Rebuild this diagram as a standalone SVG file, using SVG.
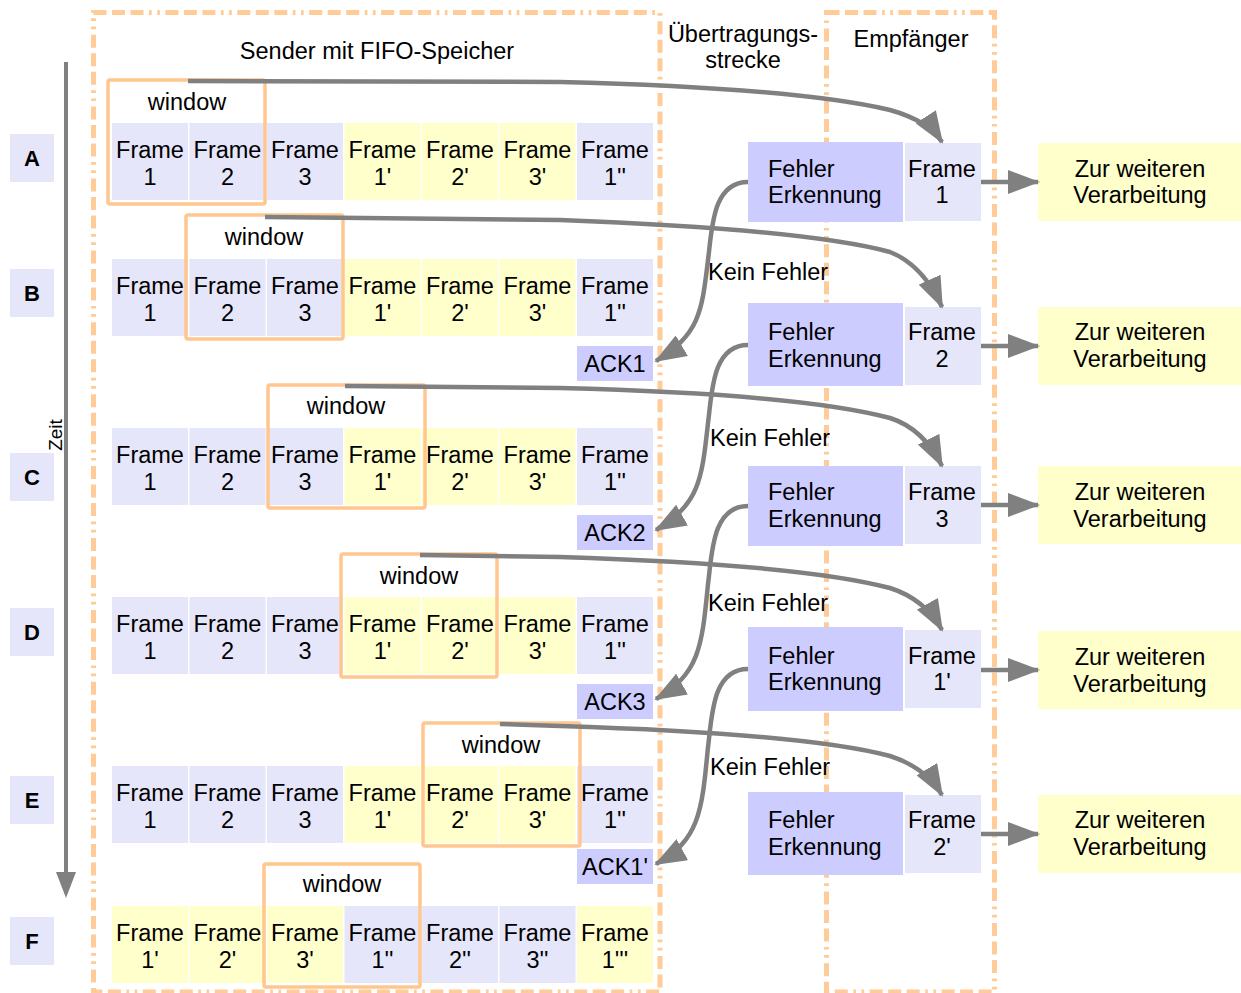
<svg xmlns="http://www.w3.org/2000/svg" width="1241" height="993" viewBox="0 0 1241 993">
<style>
  text { font-family: "Liberation Sans", Arial, sans-serif; font-size: 23.5px; fill: #000; }
  .c { text-anchor: middle; }
  .lbl { font-weight: bold; font-size: 22px; }
  .lav { fill: #E6E6FA; }
  .yel { fill: #FFFFCC; }
  .blu { fill: #CCCCFF; }
  .frame { fill: none; stroke: #FFCC99; stroke-width: 5; stroke-dasharray: 13 5.5 13 5.5 13 5.5 2.7 5.5 2.7 5.5; }
  .win { fill: none; stroke: #FFC690; stroke-width: 3.5; }
  .con { fill: none; stroke: #808080; stroke-width: 4.5; }
</style>
<defs>
  <marker id="ah" markerUnits="userSpaceOnUse" markerWidth="32" markerHeight="24" refX="30" refY="12" orient="auto">
    <path d="M0,0 L32,12 L0,24 z" fill="#808080"/>
  </marker>
</defs>
<rect width="1241" height="993" fill="#fff"/>

<!-- column frames -->
<g id="columns">
  <rect class="frame" x="93.5" y="12.5" width="566.5" height="979.5"/>
  <rect class="frame" x="826.5" y="12.5" width="168" height="979.5"/>
  <text class="c" x="377" y="59">Sender mit FIFO-Speicher</text>
  <text class="c" x="743" y="42">Übertragungs-</text>
  <text class="c" x="743" y="68">strecke</text>
  <text class="c" x="911" y="47">Empfänger</text>
</g>

<!-- time axis -->
<g id="time">
  <line x1="66" y1="62" x2="66" y2="875" stroke="#808080" stroke-width="4"/>
  <polygon points="56,872 76,872 66,898" fill="#808080"/>
  <text transform="translate(62,435) rotate(-90)" class="c" style="font-size:19px">Zeit</text>
</g>

<!-- row labels -->
<g id="rowlabels">
  <rect class="lav" x="10" y="134" width="44" height="48"/><text class="c lbl" x="32" y="166">A</text>
  <rect class="lav" x="10" y="269" width="44" height="48"/><text class="c lbl" x="32" y="301">B</text>
  <rect class="lav" x="10" y="453" width="44" height="48"/><text class="c lbl" x="32" y="485">C</text>
  <rect class="lav" x="10" y="608" width="44" height="48"/><text class="c lbl" x="32" y="640">D</text>
  <rect class="lav" x="10" y="776" width="44" height="48"/><text class="c lbl" x="32" y="808">E</text>
  <rect class="lav" x="10" y="917" width="44" height="48"/><text class="c lbl" x="32" y="949">F</text>
</g>

<!-- sender rows A-E share the same queue content -->
<g id="rowA">
  <g transform="translate(0,123)">
    <rect class="lav" x="112" width="76" height="77"/><rect class="lav" x="189.5" width="76" height="77"/><rect class="lav" x="267" width="76" height="77"/>
    <rect class="yel" x="344.5" width="76" height="77"/><rect class="yel" x="422" width="76" height="77"/><rect class="yel" x="499.5" width="76" height="77"/>
    <rect class="lav" x="577" width="76" height="77"/>
    <g class="c">
      <text x="150" y="35">Frame</text><text x="150" y="62">1</text>
      <text x="227.5" y="35">Frame</text><text x="227.5" y="62">2</text>
      <text x="305" y="35">Frame</text><text x="305" y="62">3</text>
      <text x="382.5" y="35">Frame</text><text x="382.5" y="62">1'</text>
      <text x="460" y="35">Frame</text><text x="460" y="62">2'</text>
      <text x="537.5" y="35">Frame</text><text x="537.5" y="62">3'</text>
      <text x="615" y="35">Frame</text><text x="615" y="62">1''</text>
    </g>
  </g>
  <rect class="win" x="108" y="80" width="157" height="124" rx="2"/>
  <text class="c" x="187" y="110">window</text>
</g>

<g id="rowB">
  <g transform="translate(0,259)">
    <rect class="lav" x="112" width="76" height="77"/><rect class="lav" x="189.5" width="76" height="77"/><rect class="lav" x="267" width="76" height="77"/>
    <rect class="yel" x="344.5" width="76" height="77"/><rect class="yel" x="422" width="76" height="77"/><rect class="yel" x="499.5" width="76" height="77"/>
    <rect class="lav" x="577" width="76" height="77"/>
    <g class="c">
      <text x="150" y="35">Frame</text><text x="150" y="62">1</text>
      <text x="227.5" y="35">Frame</text><text x="227.5" y="62">2</text>
      <text x="305" y="35">Frame</text><text x="305" y="62">3</text>
      <text x="382.5" y="35">Frame</text><text x="382.5" y="62">1'</text>
      <text x="460" y="35">Frame</text><text x="460" y="62">2'</text>
      <text x="537.5" y="35">Frame</text><text x="537.5" y="62">3'</text>
      <text x="615" y="35">Frame</text><text x="615" y="62">1''</text>
    </g>
  </g>
  <rect class="win" x="186" y="215" width="157" height="124" rx="2"/>
  <text class="c" x="264" y="245">window</text>
  <rect class="blu" x="577" y="346" width="76" height="35"/>
  <text class="c" x="615" y="372">ACK1</text>
</g>

<g id="rowC">
  <g transform="translate(0,428)">
    <rect class="lav" x="112" width="76" height="77"/><rect class="lav" x="189.5" width="76" height="77"/><rect class="lav" x="267" width="76" height="77"/>
    <rect class="yel" x="344.5" width="76" height="77"/><rect class="yel" x="422" width="76" height="77"/><rect class="yel" x="499.5" width="76" height="77"/>
    <rect class="lav" x="577" width="76" height="77"/>
    <g class="c">
      <text x="150" y="35">Frame</text><text x="150" y="62">1</text>
      <text x="227.5" y="35">Frame</text><text x="227.5" y="62">2</text>
      <text x="305" y="35">Frame</text><text x="305" y="62">3</text>
      <text x="382.5" y="35">Frame</text><text x="382.5" y="62">1'</text>
      <text x="460" y="35">Frame</text><text x="460" y="62">2'</text>
      <text x="537.5" y="35">Frame</text><text x="537.5" y="62">3'</text>
      <text x="615" y="35">Frame</text><text x="615" y="62">1''</text>
    </g>
  </g>
  <rect class="win" x="268" y="385" width="157" height="123" rx="2"/>
  <text class="c" x="346" y="414">window</text>
  <rect class="blu" x="577" y="515" width="76" height="35"/>
  <text class="c" x="615" y="541">ACK2</text>
</g>

<g id="rowD">
  <g transform="translate(0,597)">
    <rect class="lav" x="112" width="76" height="77"/><rect class="lav" x="189.5" width="76" height="77"/><rect class="lav" x="267" width="76" height="77"/>
    <rect class="yel" x="344.5" width="76" height="77"/><rect class="yel" x="422" width="76" height="77"/><rect class="yel" x="499.5" width="76" height="77"/>
    <rect class="lav" x="577" width="76" height="77"/>
    <g class="c">
      <text x="150" y="35">Frame</text><text x="150" y="62">1</text>
      <text x="227.5" y="35">Frame</text><text x="227.5" y="62">2</text>
      <text x="305" y="35">Frame</text><text x="305" y="62">3</text>
      <text x="382.5" y="35">Frame</text><text x="382.5" y="62">1'</text>
      <text x="460" y="35">Frame</text><text x="460" y="62">2'</text>
      <text x="537.5" y="35">Frame</text><text x="537.5" y="62">3'</text>
      <text x="615" y="35">Frame</text><text x="615" y="62">1''</text>
    </g>
  </g>
  <rect class="win" x="341" y="554" width="156" height="123" rx="2"/>
  <text class="c" x="419" y="584">window</text>
  <rect class="blu" x="577" y="684" width="76" height="35"/>
  <text class="c" x="615" y="710">ACK3</text>
</g>

<g id="rowE">
  <g transform="translate(0,766)">
    <rect class="lav" x="112" width="76" height="77"/><rect class="lav" x="189.5" width="76" height="77"/><rect class="lav" x="267" width="76" height="77"/>
    <rect class="yel" x="344.5" width="76" height="77"/><rect class="yel" x="422" width="76" height="77"/><rect class="yel" x="499.5" width="76" height="77"/>
    <rect class="lav" x="577" width="76" height="77"/>
    <g class="c">
      <text x="150" y="35">Frame</text><text x="150" y="62">1</text>
      <text x="227.5" y="35">Frame</text><text x="227.5" y="62">2</text>
      <text x="305" y="35">Frame</text><text x="305" y="62">3</text>
      <text x="382.5" y="35">Frame</text><text x="382.5" y="62">1'</text>
      <text x="460" y="35">Frame</text><text x="460" y="62">2'</text>
      <text x="537.5" y="35">Frame</text><text x="537.5" y="62">3'</text>
      <text x="615" y="35">Frame</text><text x="615" y="62">1''</text>
    </g>
  </g>
  <rect class="win" x="423" y="723" width="157" height="123" rx="2"/>
  <text class="c" x="501" y="753">window</text>
  <rect class="blu" x="577" y="849" width="76" height="35"/>
  <text class="c" x="615" y="875">ACK1'</text>
</g>

<g id="rowF">
  <g transform="translate(0,906)">
    <rect class="yel" x="112" width="76" height="77"/><rect class="yel" x="189.5" width="76" height="77"/><rect class="yel" x="267" width="76" height="77"/>
    <rect class="lav" x="344.5" width="76" height="77"/><rect class="lav" x="422" width="76" height="77"/><rect class="lav" x="499.5" width="76" height="77"/>
    <rect class="yel" x="577" width="76" height="77"/>
    <g class="c">
      <text x="150" y="35">Frame</text><text x="150" y="62">1'</text>
      <text x="227.5" y="35">Frame</text><text x="227.5" y="62">2'</text>
      <text x="305" y="35">Frame</text><text x="305" y="62">3'</text>
      <text x="382.5" y="35">Frame</text><text x="382.5" y="62">1''</text>
      <text x="460" y="35">Frame</text><text x="460" y="62">2''</text>
      <text x="537.5" y="35">Frame</text><text x="537.5" y="62">3''</text>
      <text x="615" y="35">Frame</text><text x="615" y="62">1'''</text>
    </g>
  </g>
  <rect class="win" x="264" y="864" width="156" height="123" rx="2"/>
  <text class="c" x="342" y="892">window</text>
</g>

<!-- receiver: error check, received frame, further processing -->
<g id="recvA">
  <rect class="blu" x="748" y="142" width="155" height="80"/>
  <text x="768" y="177">Fehler</text><text x="768" y="203">Erkennung</text>
  <rect class="lav" x="905" y="143" width="76" height="78"/>
  <text class="c" x="942" y="177">Frame</text><text class="c" x="942" y="203">1</text>
  <rect class="yel" x="1038" y="143" width="203" height="78"/>
  <text class="c" x="1140" y="177">Zur weiteren</text><text class="c" x="1140" y="203">Verarbeitung</text>
</g>
<g id="recvB">
  <rect class="blu" x="748" y="303" width="155" height="83"/>
  <text x="768" y="340">Fehler</text><text x="768" y="367">Erkennung</text>
  <rect class="lav" x="905" y="307" width="76" height="78"/>
  <text class="c" x="942" y="340">Frame</text><text class="c" x="942" y="367">2</text>
  <rect class="yel" x="1038" y="307" width="203" height="78"/>
  <text class="c" x="1140" y="340">Zur weiteren</text><text class="c" x="1140" y="367">Verarbeitung</text>
</g>
<g id="recvC">
  <rect class="blu" x="748" y="466" width="155" height="80"/>
  <text x="768" y="500">Fehler</text><text x="768" y="527">Erkennung</text>
  <rect class="lav" x="905" y="466" width="76" height="78"/>
  <text class="c" x="942" y="500">Frame</text><text class="c" x="942" y="527">3</text>
  <rect class="yel" x="1038" y="466" width="203" height="78"/>
  <text class="c" x="1140" y="500">Zur weiteren</text><text class="c" x="1140" y="527">Verarbeitung</text>
</g>
<g id="recvD">
  <rect class="blu" x="748" y="627" width="155" height="84"/>
  <text x="768" y="664">Fehler</text><text x="768" y="690">Erkennung</text>
  <rect class="lav" x="905" y="630" width="76" height="78"/>
  <text class="c" x="942" y="664">Frame</text><text class="c" x="942" y="690">1'</text>
  <rect class="yel" x="1038" y="631" width="203" height="78"/>
  <text class="c" x="1140" y="665">Zur weiteren</text><text class="c" x="1140" y="692">Verarbeitung</text>
</g>
<g id="recvE">
  <rect class="blu" x="748" y="792" width="155" height="83"/>
  <text x="768" y="828">Fehler</text><text x="768" y="855">Erkennung</text>
  <rect class="lav" x="905" y="795" width="76" height="78"/>
  <text class="c" x="942" y="828">Frame</text><text class="c" x="942" y="855">2'</text>
  <rect class="yel" x="1038" y="795" width="203" height="78"/>
  <text class="c" x="1140" y="828">Zur weiteren</text><text class="c" x="1140" y="855">Verarbeitung</text>
</g>

<!-- connectors -->
<g id="connectors">
  <!-- transmissions -->
  <path class="con" marker-end="url(#ah)" d="M188,81 L560,82 C720,86 830,96 890,110 C915,117 933,128 942,142"/>
  <path class="con" marker-end="url(#ah)" d="M265,217 L560,220 C720,226 830,236 890,252 C915,262 932,285 942,307"/>
  <path class="con" marker-end="url(#ah)" d="M345,386 L560,388 C720,392 830,402 890,418 C915,426 932,446 942,466"/>
  <path class="con" marker-end="url(#ah)" d="M420,555 L560,557 C720,562 830,572 890,588 C915,596 932,612 942,630"/>
  <path class="con" marker-end="url(#ah)" d="M500,724 L560,726 C720,731 830,740 890,756 C915,764 932,778 942,795"/>
  <!-- acknowledgements -->
  <path class="con" marker-end="url(#ah)" d="M748,182 C712,182 712,230 708,260 C702,310 700,335 656,361"/>
  <path class="con" marker-end="url(#ah)" d="M748,345 C712,345 712,393 708,423 C702,477 700,505 656,530"/>
  <path class="con" marker-end="url(#ah)" d="M748,506 C712,506 712,554 708,584 C702,645 700,674 656,699"/>
  <path class="con" marker-end="url(#ah)" d="M748,669 C712,669 712,717 708,747 C702,810 700,840 656,864"/>
  <!-- hand-over to further processing -->
  <line class="con" marker-end="url(#ah)" x1="981" y1="182" x2="1038" y2="182"/>
  <line class="con" marker-end="url(#ah)" x1="981" y1="346" x2="1038" y2="346"/>
  <line class="con" marker-end="url(#ah)" x1="981" y1="505" x2="1038" y2="505"/>
  <line class="con" marker-end="url(#ah)" x1="981" y1="670" x2="1038" y2="670"/>
  <line class="con" marker-end="url(#ah)" x1="981" y1="834" x2="1038" y2="834"/>
  <!-- labels -->
  <text x="708" y="280">Kein Fehler</text>
  <text x="710" y="446">Kein Fehler</text>
  <text x="708" y="611">Kein Fehler</text>
  <text x="710" y="775">Kein Fehler</text>
</g>
</svg>
